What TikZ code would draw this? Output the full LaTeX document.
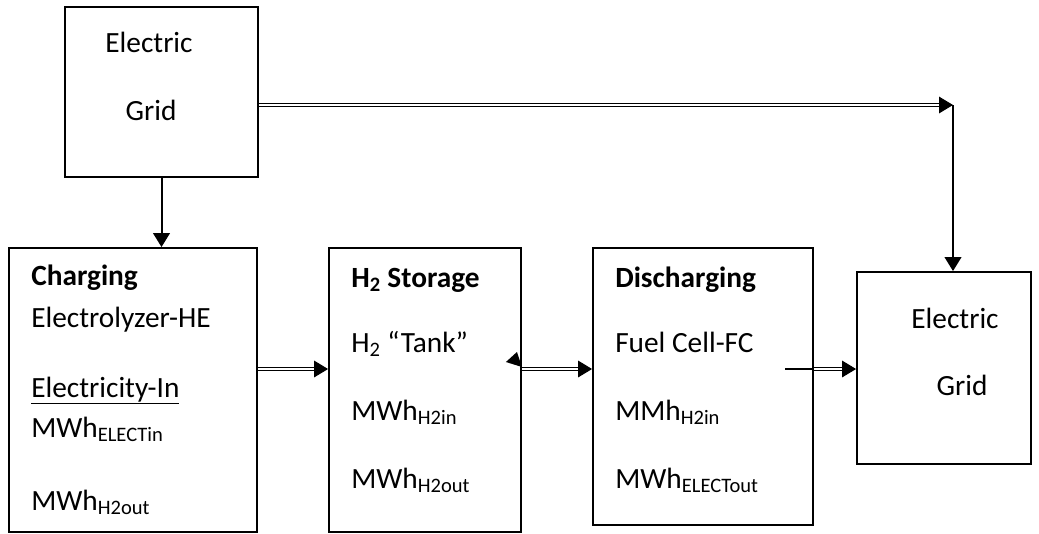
\documentclass[tikz,border=0pt]{standalone}
\usepackage{fontspec}
\setmainfont{Carlito}
\usetikzlibrary{arrows.meta,positioning,fit}
\tikzset{
    box/.style={draw, line width=1.4pt, inner sep=0pt},
    txt/.style={font=\fontsize{22}{26}\selectfont, inner sep=0pt, anchor=base west},
    ctxt/.style={txt, anchor=base},
    dline/.style={draw, double, line width=0.75pt, double distance=1.4pt, -{Triangle[length=10.5pt,width=12.5pt]}},
    sline/.style={draw, line width=1.5pt, -{Triangle[length=10.5pt,width=12.5pt]}}
}
\begin{document}
\begin{tikzpicture}[x=0.75pt, y=-0.75pt]
    \useasboundingbox (0,0) rectangle (1039,533);
    % Boxes
    \node[box, fit={(65,7) (258,177)}] (grid1) {};
    \node[box, fit={(9,248) (257,532)}] (chg) {};
    \node[box, fit={(329,248) (521,532)}] (stor) {};
    \node[box, fit={(593,248) (813,525)}] (dis) {};
    \node[box, fit={(857,272) (1031,464)}] (grid2) {};

    % Texts
    \node[ctxt] (g1a) at (149,52) {Electric};
    \node[ctxt] (g1b) at (151,120) {Grid};

    \node[txt] (chgT) at (31,285) {\textbf{Charging}};
    \node[txt] (chgA) at (31,327) {Electrolyzer-HE};
    \node[txt] (chgB) at (31,397) {\underline{Electricity-In}};
    \node[txt] (chgC) at (31,437) {MWh\textsubscript{ELECTin}};
    \node[txt] (chgD) at (31,510) {MWh\textsubscript{H2out}};

    \node[txt] (storT) at (351,287) {\textbf{H\textsubscript{2} Storage}};
    \node[txt] (storA) at (351,352) {H\textsubscript{2} “Tank”};
    \node[txt] (storB) at (351,420) {MWh\textsubscript{H2in}};
    \node[txt] (storC) at (351,488) {MWh\textsubscript{H2out}};

    \node[txt] (disT) at (615,287) {\textbf{Discharging}};
    \node[txt] (disA) at (615,352) {Fuel Cell-FC};
    \node[txt] (disB) at (615,420) {MMh\textsubscript{H2in}};
    \node[txt] (disC) at (615,488) {MWh\textsubscript{ELECTout}};

    \node[ctxt] (g2a) at (955,328) {Electric};
    \node[ctxt] (g2b) at (962,395) {Grid};

    % edges
    \coordinate (bend) at (953,105);
    \coordinate (flow) at (0,369);
    \coordinate (fc) at (785,369);
    \draw[sline] (grid1.south) -- (grid1.south |- chg.north);
    \draw[dline] (grid1.east |- bend) -- (bend);
    \draw[sline] (bend) -- (bend |- grid2.north);
    \draw[dline] (chg.east |- flow) -- (stor.west |- flow);
    \draw[dline] (stor.east |- flow) -- (dis.west |- flow);
    \fill (stor.east |- flow) ++(-16,-7) -- ++(11,-10) -- ++(5,15) -- cycle;
    \draw[line width=0.9pt] (fc) -- (dis.east |- flow);
    \draw[dline] (dis.east |- flow) -- (grid2.west |- flow);
\end{tikzpicture}
\end{document}
